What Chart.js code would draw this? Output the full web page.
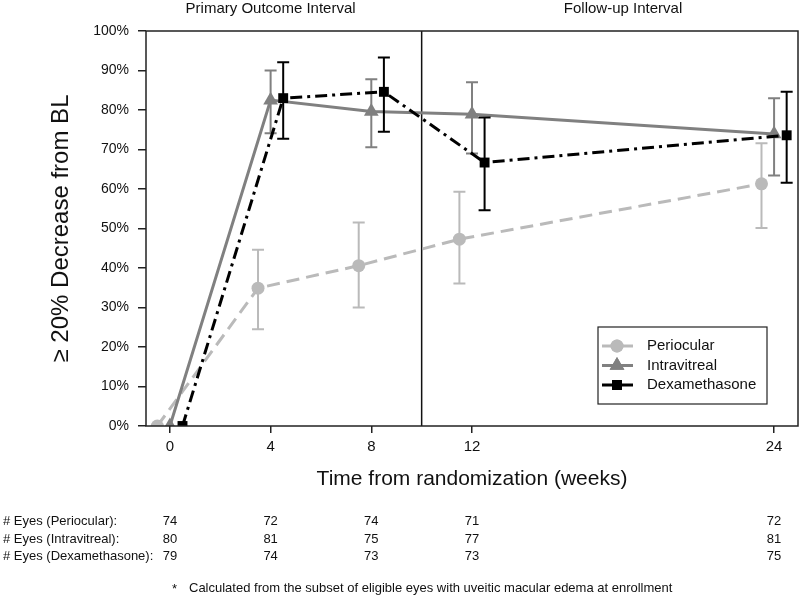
<!DOCTYPE html>
<html>
<head>
<meta charset="utf-8">
<script src="https://cdn.jsdelivr.net/npm/chart.js@4.4.1/dist/chart.umd.min.js"></script>
<style>
body { margin: 0; background: #fff; }
#wrap { width: 800px; height: 597px; }
</style>
</head>
<body>
<div id="wrap"><canvas id="myChart" width="800" height="597"></canvas></div>
<script>
// weeks of follow-up (x axis ticks)
var weeks = [0, 4, 8, 12, 24];
var primary_weeks = [0, 4, 8];
var followup_weeks = [12, 24];
var interval_split = 10;

// % of eyes with >= 20% decrease from baseline
var peri_pct = [0, 34.9, 40.6, 47.3, 61.3];
var peri_low = [null, 24.5, 30.0, 36.1, 50.1];
var peri_high = [null, 44.6, 51.5, 59.3, 71.6];

var intra_pct = [0, 82.5, 79.6, 78.9, 73.9];
var intra_low = [null, 74.1, 70.6, 69.0, 63.4];
var intra_high = [null, 90.0, 87.8, 87.0, 83.0];

var dexa_pct = [0, 83.0, 84.6, 66.7, 73.6];
var dexa_low = [null, 72.7, 74.5, 54.6, 61.6];
var dexa_high = [null, 92.1, 93.3, 78.1, 84.6];

// number of eyes at each visit
var eyes_peri = [74, 72, 74, 71, 72];
var eyes_intra = [80, 81, 75, 77, 81];
var eyes_dexa = [79, 74, 73, 73, 75];
var eyes_labels = ['# Eyes (Periocular):', '# Eyes (Intravitreal):', '# Eyes (Dexamethasone):'];

var FONT = "'Liberation Sans', Arial, Helvetica, sans-serif";

function points(vals, shift) {
    let out = [];
    for (let i = 0; i < weeks.length; i++) {
        out.push({ x: weeks[i] + shift, y: vals[i] });
    }
    return out;
}

var errorBars = {
    id: 'errorBars',
    beforeDatasetDraw: function (chart, args) {
        let ds = chart.data.datasets[args.index];
        if (!ds.errLow) return;
        let xs = chart.scales.x, ys = chart.scales.y, ctx = chart.ctx;
        ctx.save();
        ctx.strokeStyle = ds.borderColor;
        ctx.lineWidth = 2;
        ctx.setLineDash([]);
        for (let i = 0; i < ds.data.length; i++) {
            if (ds.errLow[i] == null) continue;
            let x = xs.getPixelForValue(ds.data[i].x);
            let y1 = ys.getPixelForValue(ds.errLow[i]);
            let y2 = ys.getPixelForValue(ds.errHigh[i]);
            ctx.beginPath();
            ctx.moveTo(x, y1); ctx.lineTo(x, y2);
            ctx.moveTo(x - 6, y1); ctx.lineTo(x + 6, y1);
            ctx.moveTo(x - 6, y2); ctx.lineTo(x + 6, y2);
            ctx.stroke();
        }
        ctx.restore();
    }
};

var decor = {
    id: 'decor',
    beforeDatasetsDraw: function (chart) {
        let ctx = chart.ctx, a = chart.chartArea, xs = chart.scales.x;
        let xv = xs.getPixelForValue(interval_split);
        ctx.save();
        ctx.strokeStyle = '#111';
        ctx.lineWidth = 1.5;
        ctx.beginPath();
        ctx.moveTo(xv, a.top);
        ctx.lineTo(xv, a.bottom);
        ctx.stroke();
        ctx.restore();
    },
    afterDraw: function (chart) {
        let ctx = chart.ctx, a = chart.chartArea, xs = chart.scales.x;
        ctx.save();
        // plot box
        ctx.strokeStyle = '#222';
        ctx.lineWidth = 1.5;
        ctx.strokeRect(a.left, a.top, a.right - a.left, a.bottom - a.top);

        // interval headings
        ctx.fillStyle = '#111';
        ctx.font = '15px ' + FONT;
        ctx.textAlign = 'center';
        ctx.textBaseline = 'middle';
        let p_mid = (primary_weeks[0] + primary_weeks[primary_weeks.length - 1]) / 2;
        let f_mid = (followup_weeks[0] + followup_weeks[followup_weeks.length - 1]) / 2;
        ctx.fillText('Primary Outcome Interval', xs.getPixelForValue(p_mid), 9);
        ctx.fillText('Follow-up Interval', xs.getPixelForValue(f_mid), 9);

        // legend
        let lx = 598, ly = 327, lw = 169, lh = 77;
        ctx.fillStyle = '#fff';
        ctx.fillRect(lx, ly, lw, lh);
        ctx.strokeStyle = '#222';
        ctx.lineWidth = 1.2;
        ctx.strokeRect(lx, ly, lw, lh);
        let order = [0, 1, 2];
        order.forEach(function (k, row) {
            let ds = chart.data.datasets.find(d => d.legendRow === k);
            let y = ly + 19 + row * 19.5;
            ctx.strokeStyle = ds.borderColor;
            ctx.lineWidth = 3;
            ctx.setLineDash([]);
            ctx.beginPath();
            ctx.moveTo(lx + 4, y);
            ctx.lineTo(lx + 35, y);
            ctx.stroke();
            ctx.fillStyle = ds.borderColor;
            Chart.helpers.drawPoint(ctx, {
                pointStyle: ds.pointStyle, radius: ds.pointRadius, borderWidth: 0
            }, lx + 19, y);
            ctx.fill();
            ctx.fillStyle = '#111';
            ctx.textAlign = 'left';
            ctx.font = '15px ' + FONT;
            ctx.fillText(ds.label, lx + 49, y);
        });

        // eyes table
        ctx.font = '13px ' + FONT;
        ctx.fillStyle = '#111';
        let rows = [eyes_peri, eyes_intra, eyes_dexa];
        for (let r = 0; r < rows.length; r++) {
            let y = 521.5 + r * 17.5;
            ctx.textAlign = 'left';
            ctx.fillText(eyes_labels[r], 3, y);
            ctx.textAlign = 'center';
            for (let i = 0; i < weeks.length; i++) {
                ctx.fillText(String(rows[r][i]), xs.getPixelForValue(weeks[i]), y);
            }
        }
        // footnote
        ctx.textAlign = 'left';
        ctx.fillText('*', 172, 589);
        ctx.fillText('Calculated from the subset of eligible eyes with uveitic macular edema at enrollment', 189, 588);
        ctx.restore();
    }
};

var ctx = document.getElementById('myChart');
var chart = new Chart(ctx, {
    type: 'scatter',
    data: {
        datasets: [
            {
                label: 'Dexamethasone',
                legendRow: 2,
                data: points(dexa_pct, 0.5),
                errLow: dexa_low,
                errHigh: dexa_high,
                showLine: true,
                borderColor: '#000000',
                backgroundColor: '#000000',
                borderWidth: 3,
                borderDash: [12, 5, 3, 5],
                pointStyle: 'rect',
                pointRadius: 7,
                pointBorderWidth: 0,
                order: 1
            },
            {
                label: 'Intravitreal',
                legendRow: 1,
                data: points(intra_pct, 0),
                errLow: intra_low,
                errHigh: intra_high,
                showLine: true,
                borderColor: '#808080',
                backgroundColor: '#808080',
                borderWidth: 3,
                pointStyle: 'triangle',
                pointRadius: 8.5,
                pointBorderWidth: 0,
                order: 2
            },
            {
                label: 'Periocular',
                legendRow: 0,
                data: points(peri_pct, -0.5),
                errLow: peri_low,
                errHigh: peri_high,
                showLine: true,
                borderColor: '#bababa',
                backgroundColor: '#bababa',
                borderWidth: 3,
                borderDash: [13, 7],
                pointStyle: 'circle',
                pointRadius: 6.5,
                pointBorderWidth: 0,
                order: 3
            }
        ]
    },
    options: {
        responsive: false,
        animation: false,
        layout: { autoPadding: false, padding: { left: 0, right: 2, top: 31, bottom: 105.4 } },
        scales: {
            x: {
                type: 'linear',
                min: -0.95,
                max: 24.95,
                afterBuildTicks: function (scale) {
                    scale.ticks = weeks.map(v => ({ value: v }));
                },
                afterFit: function (scale) {
                    scale.height = 65.6;
                    scale.paddingLeft = 0;
                    scale.paddingRight = 0;
                },
                grid: { drawOnChartArea: false, drawTicks: true, tickLength: 7, color: '#222', lineWidth: 1.5 },
                border: { display: false },
                ticks: {
                    autoSkip: false, maxRotation: 0, padding: 5,
                    color: '#111', font: { family: FONT, size: 15 }
                },
                title: {
                    display: true,
                    text: 'Time from randomization (weeks)',
                    color: '#111',
                    font: { family: FONT, size: 21 },
                    padding: { top: 0, bottom: 0 }
                }
            },
            y: {
                min: 0,
                max: 100,
                afterFit: function (scale) {
                    scale.width = 146;
                    scale.paddingTop = 0;
                    scale.paddingBottom = 0;
                },
                grid: { drawOnChartArea: false, drawTicks: true, tickLength: 8, color: '#222', lineWidth: 1.5 },
                border: { display: false },
                ticks: {
                    stepSize: 10, padding: 9,
                    color: '#111', font: { family: FONT, size: 14 },
                    callback: function (v) { return v + '%'; }
                },
                title: {
                    display: true,
                    text: '\u2265 20% Decrease from BL',
                    color: '#111',
                    font: { family: FONT, size: 24 },
                    padding: { top: 47, bottom: 0 }
                }
            }
        },
        plugins: {
            legend: { display: false },
            tooltip: { enabled: false }
        }
    },
    plugins: [errorBars, decor]
});
</script>
</body>
</html>
